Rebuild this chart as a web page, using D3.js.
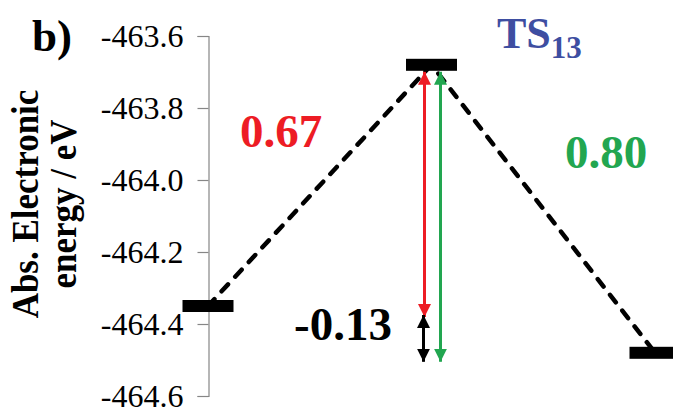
<!DOCTYPE html>
<html><head><meta charset="utf-8">
<script src="https://cdn.jsdelivr.net/npm/d3@7"></script>
<style>
html,body{margin:0;padding:0;background:#fff;}
svg text{font-family:"Liberation Serif","Times New Roman",serif;}
</style></head>
<body><svg id="c" width="673" height="408"></svg>
<script>
// ---- data ----
const states = ["R", "TS13", "P"];
const energies = [-464.35, -463.68, -464.48];
const yTicks = [-463.6, -463.8, -464.0, -464.2, -464.4, -464.6];
const barrierLabels = ["0.67", "0.80", "-0.13"];
const arrowFrom = [1, 1, 0];
const arrowTo = [0, 2, 2];
const arrowColors = ["#ED1C24", "#22A650", "#000000"];
const labelColors = ["#ED1C24", "#22A650", "#000000"];

const svg = d3.select("#c");
const y = d3.scaleLinear().domain([-464.6, -463.6]).range([396, 36]);
const x = d3.scaleLinear().domain([0, 2]).range([208, 655]);

// axis
const axis = d3.axisLeft(y).tickValues(yTicks).tickSize(11).tickPadding(14)
  .tickFormat(d => d.toFixed(1));
const ag = svg.append("g").attr("transform", "translate(208.5,0)").call(axis);
ag.select(".domain").attr("stroke", "#868686").attr("stroke-width", 1.2);
ag.selectAll(".tick line").attr("stroke", "#868686").attr("stroke-width", 1.2);
ag.selectAll(".tick text").attr("fill", "#000").style("font-size", "32px")
  .style("font-family", "'Liberation Serif', serif").attr("dy", "0.34em");

// dashed connectors
const line = d3.line().x((d, i) => x(i)).y(d => y(d));
svg.append("path").datum(energies).attr("d", line)
  .attr("fill", "none").attr("stroke", "#000").attr("stroke-width", 4.5)
  .attr("stroke-linecap", "round").attr("stroke-dasharray", "9.5,10.5");

// level bars
svg.selectAll("rect.lvl").data(energies).enter().append("rect")
  .attr("class", "lvl")
  .attr("x", (d, i) => x(i) - 25.5).attr("width", 51)
  .attr("y", d => y(d) - 6).attr("height", 12).attr("fill", "#000");

// arrows
const defs = svg.append("defs");
arrowColors.forEach((c, i) => {
  defs.append("marker").attr("id", "ah" + i).attr("viewBox", "0 0 13 13")
    .attr("refX", 13).attr("refY", 6.5).attr("markerWidth", 13).attr("markerHeight", 13)
    .attr("markerUnits", "userSpaceOnUse").attr("orient", "auto-start-reverse")
    .append("path").attr("d", "M0,0L13,6.5L0,13Z").attr("fill", c);
});
const arrowDx = [-7, 9, -8];
const arrowTopOff = [7, 7, 9];
const arrowBotOff = [11, 9, 9];
arrowColors.forEach((c, i) => {
  const top = Math.max(energies[arrowFrom[i]], energies[arrowTo[i]]);
  const bot = Math.min(energies[arrowFrom[i]], energies[arrowTo[i]]);
  const xx = x(1) + arrowDx[i];
  svg.append("line").attr("x1", xx).attr("x2", xx)
    .attr("y1", y(top) + arrowTopOff[i]).attr("y2", y(bot) + arrowBotOff[i])
    .attr("stroke", c).attr("stroke-width", 3)
    .attr("marker-start", "url(#ah" + i + ")").attr("marker-end", "url(#ah" + i + ")");
});

// barrier labels
const labelPos = [[240, 147], [565, 168], [294, 340]];
barrierLabels.forEach((t, i) => {
  svg.append("text").attr("x", labelPos[i][0]).attr("y", labelPos[i][1])
    .attr("fill", labelColors[i]).style("font-size", "47px").style("font-weight", "bold")
    .text(t);
});

// TS label
const ts = svg.append("text").attr("x", 497).attr("y", 48).attr("fill", "#3E4EA1")
  .style("font-size", "44px").style("font-weight", "bold");
ts.append("tspan").text("TS");
ts.append("tspan").attr("dy", 10).style("font-size", "31px").text("13");

// panel letter
svg.append("text").attr("x", 32).attr("y", 51).style("font-size", "45px")
  .style("font-weight", "bold").text("b)");

// y title
const yt = svg.append("text").attr("transform", "translate(38,204) rotate(-90) scale(1,1.1)")
  .attr("text-anchor", "middle").style("font-size", "35px").style("font-weight", "bold");
yt.append("tspan").attr("x", 0).attr("y", 0).text("Abs.  Electronic");
yt.append("tspan").attr("x", 0).attr("y", 35).text("energy / eV");
</script></body></html>
